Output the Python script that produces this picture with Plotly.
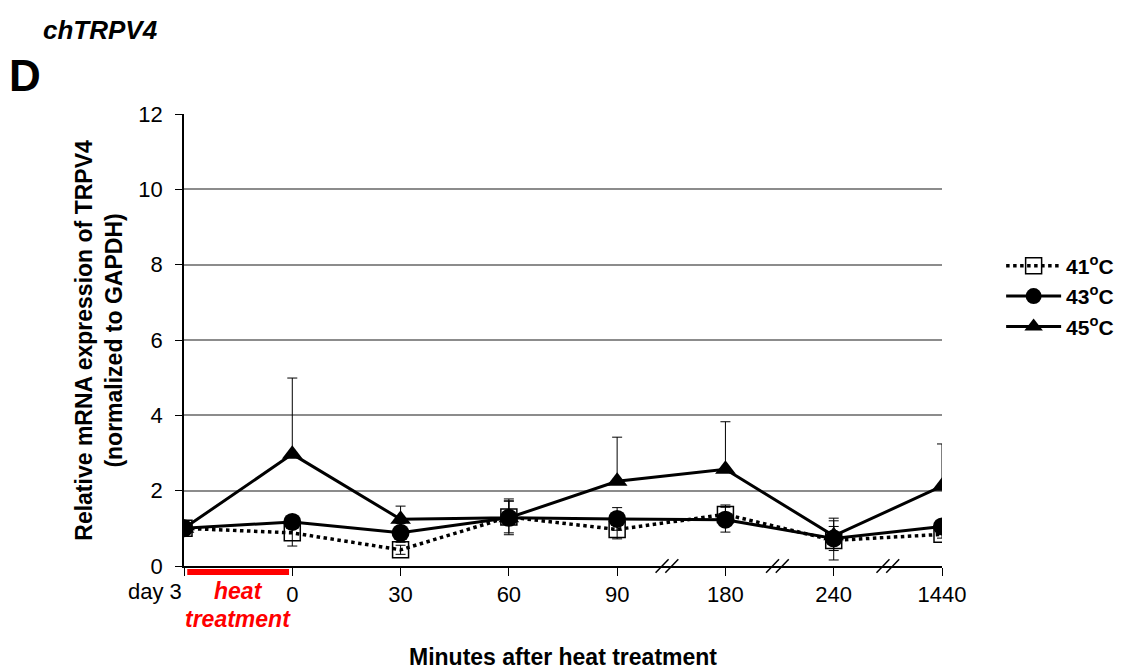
import plotly.graph_objects as go

categories = ["day 3", "0", "30", "60", "90", "180", "240", "1440"]
tick_labels = ["", "0", "30", "60", "90", "180", "240", "1440"]
v41 = [1.0, 0.88, 0.43, 1.30, 0.97, 1.37, 0.68, 0.84]
e41 = [0.0, 0.35, 0.12, 0.42, 0.25, 0.25, 0.52, 0.10]
v43 = [1.0, 1.17, 0.88, 1.28, 1.25, 1.23, 0.73, 1.05]
e43 = [0.0, 0.15, 0.25, 0.45, 0.30, 0.33, 0.32, 0.10]
v45 = [1.0, 2.97, 1.24, 1.28, 2.25, 2.57, 0.80, 2.12]
e45 = [0.0, 2.02, 0.35, 0.50, 1.17, 1.26, 0.47, 1.12]
break_positions = [4.46, 5.48, 6.50]

xi = list(range(len(categories)))
FONT = "Liberation Sans, Arial, sans-serif"

fig = go.Figure()
fig.add_trace(go.Scatter(
    x=xi, y=v41, mode="lines+markers", name="<b>41<sup>o</sup>C</b>",
    line=dict(color="black", width=3.5, dash="dot"),
    marker=dict(symbol="square-open", size=16, color="black", line=dict(width=1.5)),
    error_y=dict(type="data", array=e41, arrayminus=e41, symmetric=False,
                 color="black", thickness=1, width=5),
))
fig.add_trace(go.Scatter(
    x=xi, y=v43, mode="lines+markers", name="<b>43<sup>o</sup>C</b>",
    line=dict(color="black", width=3),
    marker=dict(symbol="circle", size=18, color="black"),
    error_y=dict(type="data", array=e43, arrayminus=e43, symmetric=False,
                 color="black", thickness=1, width=5),
))
fig.add_trace(go.Scatter(
    x=xi, y=v45, mode="lines+markers", name="<b>45<sup>o</sup>C</b>",
    line=dict(color="black", width=3),
    marker=dict(symbol="triangle-up", size=18, color="black"),
    error_y=dict(type="data", array=e45, arrayminus=[0] * len(e45), symmetric=False,
                 color="black", thickness=1, width=5),
))

# red heat treatment bar
fig.add_shape(type="line", xref="x", yref="paper", x0=0.03, x1=0.97,
              y0=-0.013, y1=-0.013, line=dict(color="red", width=6))

# axis break marks (two slashes each)
for bp in break_positions:
    for off in (-0.045, 0.045):
        fig.add_shape(type="line", xref="x", yref="paper",
                      x0=bp + off - 0.06, x1=bp + off + 0.06,
                      y0=-0.015, y1=0.015, line=dict(color="black", width=1.5))

annotations = []
annotations.append(dict(x=0.5, xref="x", y=-0.0553, yref="paper",
                        text="<b><i>heat</i></b>", showarrow=False,
                        font=dict(color="red", size=23, family=FONT),
                        yanchor="middle"))
annotations.append(dict(x=0.5, xref="x", y=-0.117, yref="paper",
                        text="<b><i>treatment</i></b>", showarrow=False,
                        font=dict(color="red", size=23, family=FONT),
                        yanchor="middle"))
annotations.append(dict(x=0, xref="x", y=-0.0575, yref="paper", text=categories[0],
                        showarrow=False, xanchor="right", yanchor="middle",
                        font=dict(size=22, color="black", family=FONT)))
annotations.append(dict(x=0.5, xref="paper", y=-0.201, yref="paper",
                        text="<b>Minutes after heat treatment</b>", showarrow=False,
                        font=dict(size=23, color="black", family=FONT), yanchor="middle"))
annotations.append(dict(x=-0.1125, xref="paper", y=0.5, yref="paper", textangle=-90,
                        text="<b>Relative mRNA expression of TRPV4<br>(normalized to GAPDH)</b>",
                        showarrow=False, font=dict(size=23, color="black", family=FONT),
                        xanchor="center", yanchor="middle"))
annotations.append(dict(x=-0.189, xref="paper", y=1.186, yref="paper",
                        text="<b><i>chTRPV4</i></b>", showarrow=False, xanchor="left",
                        yanchor="middle", font=dict(size=26, color="black", family=FONT)))
annotations.append(dict(x=-0.233, xref="paper", y=1.085, yref="paper",
                        text="<b>D</b>", showarrow=False, xanchor="left",
                        yanchor="middle", font=dict(size=44, color="black", family=FONT)))

fig.update_layout(
    width=1135, height=668,
    margin=dict(l=176, r=201, t=106, b=110),
    paper_bgcolor="white", plot_bgcolor="white",
    font=dict(family=FONT, size=22, color="black"),
    showlegend=True,
    legend=dict(x=1.078, y=0.597, xanchor="left", yanchor="middle",
                font=dict(size=21, color="black", family=FONT),
                bgcolor="rgba(0,0,0,0)", tracegroupgap=0, itemsizing="trace",
                itemwidth=55),
    annotations=annotations,
    xaxis=dict(range=[0, 7], tickmode="array", tickvals=xi, ticktext=tick_labels,
               showgrid=False, zeroline=False, showline=True, linecolor="black",
               linewidth=1.5, ticks="outside", ticklen=8, tickcolor="black",
               tickfont=dict(size=22, family=FONT)),
    yaxis=dict(range=[0, 12], dtick=2, showgrid=True, gridcolor="#8c8c8c", gridwidth=1.5,
               zeroline=False, showline=True, linecolor="black", linewidth=1.5,
               ticks="outside", ticklen=7, tickcolor="black", ticklabelstandoff=8,
               tickfont=dict(size=22, family=FONT)),
)

fig.write_html("out.html")
